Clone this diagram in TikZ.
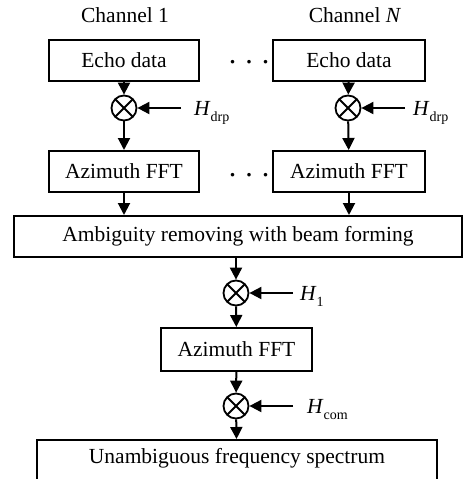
\documentclass[tikz,border=0pt]{standalone}
\usepackage{fontspec}
\setmainfont{Liberation Serif}
\usetikzlibrary{arrows.meta,positioning}
\begin{document}
\begin{tikzpicture}[
    x=1pt, y=1pt,
    font=\fontsize{21.5}{24}\selectfont,
    block/.style={rectangle, draw, line width=2pt, minimum height=41pt, inner sep=0pt},
    mult/.style={circle, draw, line width=1.8pt, minimum size=25pt, inner sep=0pt,
        path picture={\draw[line width=1.8pt] (path picture bounding box.north west) -- (path picture bounding box.south east)
            (path picture bounding box.north east) -- (path picture bounding box.south west);}},
    gain/.style={anchor=base west, inner sep=0pt},
    dots/.style={inner sep=0pt, font=\fontsize{30}{30}\selectfont},
    arrow/.style={-{Triangle[width=12pt,length=12pt]}, line width=2pt}
]
\useasboundingbox (0,0) rectangle (464,-479);

% Channel 1
\node (ch1) at (125,-15) {Channel 1};
\node[block, minimum width=150pt] (echo1) at (124,-60) {Echo data};
\node[mult] (m1) at (124,-108) {};
\coordinate (d1) at (181,-108);
\node[gain] (hd1) at (194,-115) {\textit{H}\raisebox{-6pt}{\fontsize{14}{14}\selectfont drp}};
\node[block, minimum width=150pt] (fft1) at (124,-171.5) {Azimuth FFT};

% Channel N
\node (chn) at (355,-15) {Channel \textit{N}};
\node[block, minimum width=152pt] (echon) at (349,-60) {Echo data};
\node[mult] (mn) at (348,-108) {};
\coordinate (dn) at (405,-108);
\node[gain] (hdn) at (413,-115) {\textit{H}\raisebox{-6pt}{\fontsize{14}{14}\selectfont drp}};
\node[block, minimum width=152pt] (fftn) at (349,-171.5) {Azimuth FFT};

% Dots
\node[dots] (dots1) at (249,-62) {.\hspace{9pt}.\hspace{9pt}.};
\node[dots] (dots2) at (249,-175) {.\hspace{9pt}.\hspace{9pt}.};

% Beam forming
\node[block, minimum width=448pt] (amb) at (238,-236.5) {Ambiguity removing with beam forming};
\node[mult] (m3) at (236,-293) {};
\coordinate (d3) at (293,-293);
\node[gain] (hone) at (300,-300) {\textit{H}\raisebox{-6pt}{\fontsize{14}{14}\selectfont 1}};
\node[block, minimum width=151pt, minimum height=43pt] (fft3) at (236.5,-349.5) {Azimuth FFT};
\node[mult] (m4) at (236,-406) {};
\coordinate (d4) at (293,-406);
\node[gain] (hcom) at (307,-413) {\textit{H}\raisebox{-6pt}{\fontsize{14}{14}\selectfont com}};

% Output
\node[block, minimum width=400pt, minimum height=60pt, text depth=28pt] (out) at (237,-470) {Unambiguous frequency spectrum};

% Arrows
\draw[arrow] (echo1) -- (m1);
\draw[arrow] (d1) -- (m1);
\draw[arrow] (m1) -- (fft1);
\draw[arrow] (echon) -- (mn);
\draw[arrow] (dn) -- (mn);
\draw[arrow] (mn) -- (fftn);
\draw[arrow] (fft1.south) -- (fft1.south |- amb.north);
\draw[arrow] (fftn.south) -- (fftn.south |- amb.north);
\draw[arrow] (m3 |- amb.south) -- (m3);
\draw[arrow] (d3) -- (m3);
\draw[arrow] (m3) -- (fft3);
\draw[arrow] (fft3) -- (m4);
\draw[arrow] (d4) -- (m4);
\draw[arrow] (m4) -- (out);

\end{tikzpicture}
\end{document}
